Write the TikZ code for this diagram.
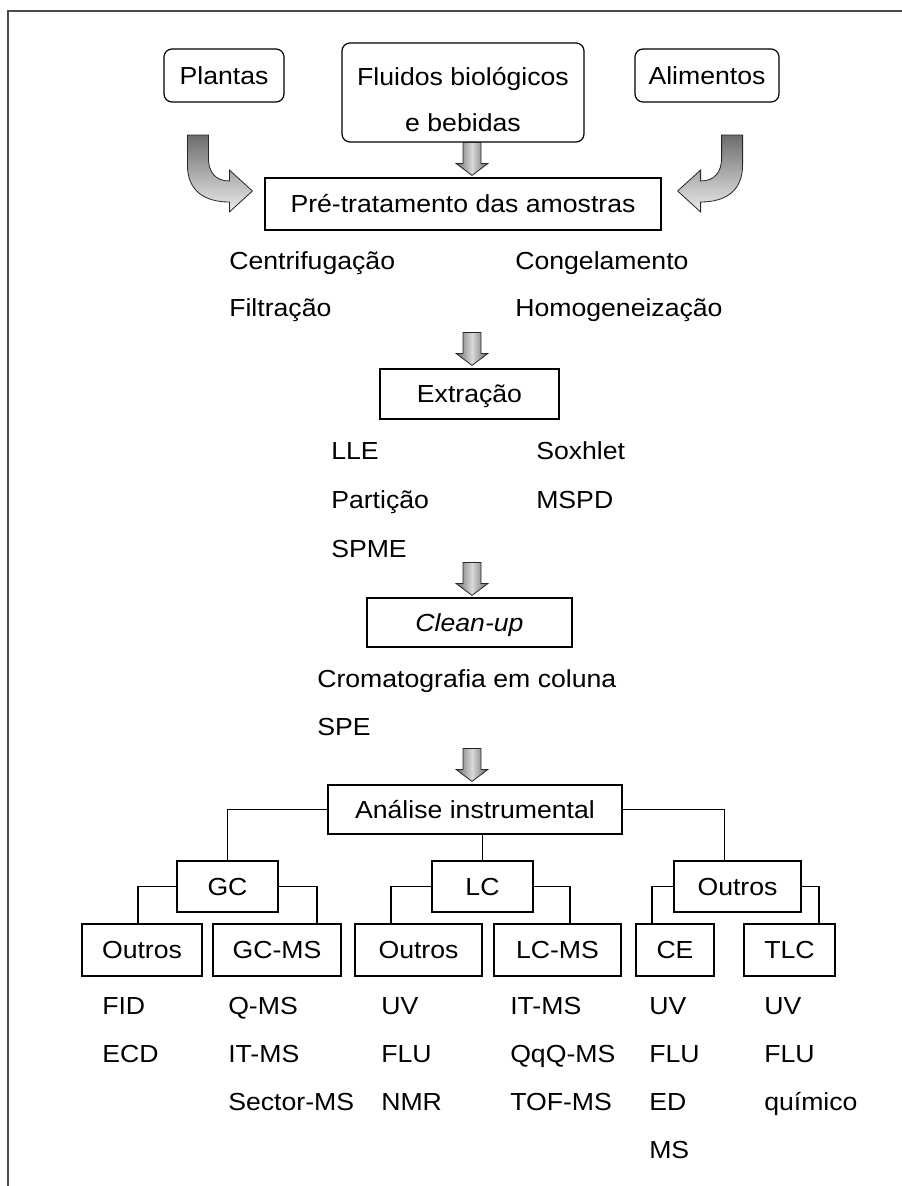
\documentclass[tikz,border=0pt]{standalone}
\usepackage{fontspec}
\setmainfont{Liberation Sans}[FakeStretch=1.08]
\usetikzlibrary{positioning}
\usetikzlibrary{calc}
\tikzset{box/.style={draw, line width=0.9pt, inner sep=0pt, text height=14pt, text depth=1pt}}
\tikzset{rbox/.style={draw, line width=0.9pt, rounded corners=6pt, inner sep=0pt}}
\tikzset{lst/.style={anchor=base west, inner sep=0pt}}
\tikzset{link/.style={draw, line width=0.9pt}}
\tikzset{frame/.style={draw=gray!60!black, line width=1.2pt}}
\tikzset{barrow/.style={draw=gray!30!black, line width=0.6pt, left color=gray!85!black, right color=gray!80!black, middle color=gray!30}}
\tikzset{carrow/.style={draw=gray!30!black, line width=0.6pt, top color=gray!85!black, bottom color=gray!15}}
\newcommand{\flowarrow}[1]{\path[barrow] (#1) -- ++(16,-12) -- ++(-7,0) -- ++(0,-21) -- ++(-18,0) -- ++(0,21) -- ++(-7,0) -- cycle;}
\newcommand{\bendarrow}{(-65,-56) -- (-44,-56) -- (-44,-33) .. controls (-44,-19) and (-37,-10) .. (-23,-10) -- (-23,-21) -- (0,0) -- (-23,21) -- (-23,11) .. controls (-49,11) and (-65,-1) .. (-65,-26) -- cycle}
% one column of list items: name, x, first baseline, gap, items
\newcommand{\itemcol}[5]{\foreach \t [count=\i from 0] in {#5} {\node[lst] (#1-\i) at (#2,#3+#4*\i) {\t};}}

\begin{document}
\begin{tikzpicture}[x=0.75pt, y=-0.75pt, font=\fontsize{18.5}{22}\selectfont]
\useasboundingbox (0,0) rectangle (902,1186);
\draw[frame] (8,1186) -- (8,11) -- (902,11);

% sources
\node[rbox, minimum width=90pt, minimum height=39.75pt] (plant) at (224,75.5) {Plantas};
\node[rbox, minimum width=181.5pt, minimum height=74.25pt, align=center, text height=59pt, text depth=0pt, font=\fontsize{18.5}{34.5}\selectfont] (fluid) at (463,92.5) {Fluidos biológicos\\e bebidas};
\node[rbox, minimum width=108pt, minimum height=39.75pt] (food) at (707,75.5) {Alimentos};

% main steps
\coordinate (ax) at (472,0);
\node[box, minimum width=297pt, minimum height=39pt] (pre) at (463,204) {Pré-tratamento das amostras};
\node[box, minimum width=134.25pt, minimum height=37.5pt] (extr) at (469.5,394) {Extração};
\node[box, minimum width=153.75pt, minimum height=36.75pt] (clean) at (469.5,622.5) {\textit{Clean-up}};
\node[box, minimum width=220.5pt, minimum height=36.75pt] (anal) at (475,809.5) {Análise instrumental};

\coordinate (tipL) at ($(pre.west)+(-9pt,9.75pt)$);
\coordinate (tipR) at ($(pre.east)+(12pt,9.75pt)$);
\begin{scope}[shift={(tipL)}]
\path[carrow] \bendarrow;
\end{scope}
\begin{scope}[shift={(tipR)}, xscale=-1]
\path[carrow] \bendarrow;
\end{scope}

\flowarrow{$(ax |- pre.north)+(0,-2)$}
\flowarrow{$(ax |- extr.north)+(0,-3)$}
\flowarrow{$(ax |- clean.north)+(0,-2)$}
\flowarrow{$(ax |- anal.north)+(0,-3)$}

% methods
\itemcol{m1}{229}{269}{47}{Centrifugação, Filtração}
\itemcol{m2}{515}{269}{47}{Congelamento, Homogeneização}
\itemcol{m3}{331}{459}{49}{LLE, Partição, SPME}
\itemcol{m4}{536}{459}{49}{Soxhlet, MSPD}
\itemcol{m5}{317}{687}{48}{Cromatografia em coluna, SPE}

% techniques
\node[box, minimum width=75.75pt, minimum height=38.25pt] (gc) at (227.5,886.5) {GC};
\node[box, minimum width=75.75pt, minimum height=38.25pt] (lc) at (482.5,886.5) {LC};
\node[box, minimum width=95.25pt, minimum height=38.25pt] (other) at (737.5,886.5) {Outros};

\node[box, minimum width=90pt, minimum height=39pt] (o1) at (142,950) {Outros};
\node[box, minimum width=96pt, minimum height=39pt] (gcms) at (277,950) {GC-MS};
\node[box, minimum width=95.25pt, minimum height=39pt] (o2) at (418.5,950) {Outros};
\node[box, minimum width=95.25pt, minimum height=39pt] (lcms) at (557.5,950) {LC-MS};
\node[box, minimum width=58.5pt, minimum height=39pt] (ce) at (675,950) {CE};
\node[box, minimum width=68.25pt, minimum height=39pt] (tlc) at (789.5,950) {TLC};

\draw[link] (anal.west) -| (gc.north);
\draw[link] (lc.north) -- (lc.north |- anal.south);
\draw[link] (anal.east) -| ([xshift=-10pt]other.north);
\draw[link] (gc.west) -| ([xshift=-3pt]o1.north);
\draw[link] (gc.east) -| ([xshift=30pt]gcms.north);
\draw[link] (lc.west) -| ([xshift=-20.6pt]o2.north);
\draw[link] (lc.east) -| ([xshift=9.4pt]lcms.north);
\draw[link] (other.west) -| ([xshift=-17.25pt]ce.north);
\draw[link] (other.east) -| ([xshift=22.1pt]tlc.north);

% detectors
\itemcol{d1}{102}{1014}{48}{FID, ECD}
\itemcol{d2}{228}{1014}{48}{Q-MS, IT-MS, Sector-MS}
\itemcol{d3}{381}{1014}{48}{UV, FLU, NMR}
\itemcol{d4}{510}{1014}{48}{IT-MS, QqQ-MS, TOF-MS}
\itemcol{d5}{649}{1014}{48}{UV, FLU, ED, MS}
\itemcol{d6}{764}{1014}{48}{UV, FLU, químico}
\end{tikzpicture}
\end{document}
